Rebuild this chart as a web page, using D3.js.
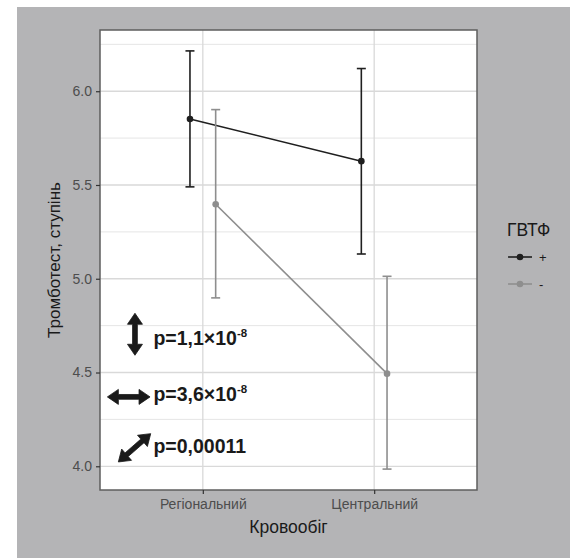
<!DOCTYPE html>
<html>
<head>
<meta charset="utf-8">
<script src="https://cdn.jsdelivr.net/npm/d3@7"></script>
<style>
  body { margin: 0; background: #ffffff; }
  svg { display: block; font-family: "Liberation Sans", Arial, sans-serif; }
</style>
</head>
<body>
<svg id="chart" width="570" height="558"></svg>
<script>
// data
const categories = ['Регіональний', 'Центральний'];
const groups = ['+', '-'];
const groupColors = ['#1f1f1f', '#8e8e8e'];
const meanPlus = [5.852, 5.627];
const lowerPlus = [5.490, 5.132];
const upperPlus = [6.215, 6.121];
const meanMinus = [5.397, 4.494];
const lowerMinus = [4.898, 3.985];
const upperMinus = [5.902, 5.013];
const yTicks = [4.0, 4.5, 5.0, 5.5, 6.0];
const yMinorTicks = [4.25, 4.75, 5.25, 5.75, 6.25];

// annotations, x in discrete-axis units, y in data units
const arrows = [
  { x1: 0.604, y1: 4.816, x2: 0.604, y2: 4.592 },
  { x1: 0.443, y1: 4.370, x2: 0.692, y2: 4.370 },
  { x1: 0.507, y1: 4.023, x2: 0.696, y2: 4.174 }
];
const pLabels = [
  { x: 0.712, y: 4.645, text: 'p=1,1×10', sup: '-8' },
  { x: 0.712, y: 4.348, text: 'p=3,6×10', sup: '-8' },
  { x: 0.712, y: 4.071, text: 'p=0,00011', sup: '' }
];

const series = [
  { key: groups[0], color: groupColors[0], mean: meanPlus, lo: lowerPlus, hi: upperPlus, dodge: -1 },
  { key: groups[1], color: groupColors[1], mean: meanMinus, lo: lowerMinus, hi: upperMinus, dodge: 1 }
];

const svg = d3.select('#chart');

const panel = { left: 100, right: 477, top: 30, bottom: 490 };

// grey plot background
svg.append('rect')
  .attr('x', 17).attr('y', 7)
  .attr('width', 553).attr('height', 551)
  .attr('fill', '#b4b4b6');

svg.append('rect')
  .attr('x', panel.left).attr('y', panel.top)
  .attr('width', panel.right - panel.left)
  .attr('height', panel.bottom - panel.top)
  .attr('fill', '#ffffff');

const allLo = d3.min([...lowerPlus, ...lowerMinus]);
const allHi = d3.max([...upperPlus, ...upperMinus]);
const pad = (allHi - allLo) * 0.05;

const y = d3.scaleLinear()
  .domain([allLo - pad, allHi + pad])
  .range([panel.bottom, panel.top]);

const xNum = d3.scaleLinear()
  .domain([0.4, categories.length + 0.6])
  .range([panel.left, panel.right]);

const xCat = (i) => xNum(i + 1);
const dodge = 0.075;

// grid
const grid = svg.append('g');
grid.selectAll('line.minor')
  .data(yMinorTicks)
  .join('line')
  .attr('class', 'minor')
  .attr('x1', panel.left).attr('x2', panel.right)
  .attr('y1', (d) => y(d)).attr('y2', (d) => y(d))
  .attr('stroke', '#e2e2e2')
  .attr('stroke-width', 0.9);
grid.selectAll('line.major')
  .data(yTicks)
  .join('line')
  .attr('class', 'major')
  .attr('x1', panel.left).attr('x2', panel.right)
  .attr('y1', (d) => y(d)).attr('y2', (d) => y(d))
  .attr('stroke', '#d9d9d9')
  .attr('stroke-width', 1.3);
grid.selectAll('line.vmajor')
  .data(categories)
  .join('line')
  .attr('class', 'vmajor')
  .attr('x1', (d, i) => xCat(i)).attr('x2', (d, i) => xCat(i))
  .attr('y1', panel.top).attr('y2', panel.bottom)
  .attr('stroke', '#d9d9d9')
  .attr('stroke-width', 1.3);

// series
series.forEach((s) => {
  const g = svg.append('g');
  const px = (i) => xNum(i + 1 + s.dodge * dodge);

  g.selectAll('line.bar')
    .data(s.mean)
    .join('line')
    .attr('x1', (d, i) => px(i)).attr('x2', (d, i) => px(i))
    .attr('y1', (d, i) => y(s.lo[i])).attr('y2', (d, i) => y(s.hi[i]))
    .attr('stroke', s.color)
    .attr('stroke-width', 1.6);

  [s.lo, s.hi].forEach((arr) => {
    g.append('g').selectAll('line')
      .data(arr)
      .join('line')
      .attr('x1', (d, i) => px(i) - 4.5).attr('x2', (d, i) => px(i) + 4.5)
      .attr('y1', (d) => y(d)).attr('y2', (d) => y(d))
      .attr('stroke', s.color)
      .attr('stroke-width', 1.6);
  });

  g.append('path')
    .datum(s.mean)
    .attr('d', d3.line().x((d, i) => px(i)).y((d) => y(d)))
    .attr('fill', 'none')
    .attr('stroke', s.color)
    .attr('stroke-width', 1.6);

  g.selectAll('circle')
    .data(s.mean)
    .join('circle')
    .attr('cx', (d, i) => px(i))
    .attr('cy', (d) => y(d))
    .attr('r', 3.3)
    .attr('fill', s.color);
});

// double-headed arrows
function arrowPath(a) {
  const x1 = xNum(a.x1), y1 = y(a.y1), x2 = xNum(a.x2), y2 = y(a.y2);
  const len = Math.hypot(x2 - x1, y2 - y1);
  const ux = (x2 - x1) / len, uy = (y2 - y1) / len;
  const nx = -uy, ny = ux;
  const head = 11, hw = 7.5, sw = 2.4;
  const pt = (t, n) => [x1 + ux * t + nx * n, y1 + uy * t + ny * n];
  const pts = [
    pt(0, 0), pt(head, hw), pt(head, sw), pt(len - head, sw), pt(len - head, hw),
    pt(len, 0), pt(len - head, -hw), pt(len - head, -sw), pt(head, -sw), pt(head, -hw)
  ];
  return 'M' + pts.map((p) => p.join(',')).join('L') + 'Z';
}

svg.append('g').selectAll('path')
  .data(arrows)
  .join('path')
  .attr('d', arrowPath)
  .attr('fill', '#1a1a1a')
  .attr('stroke', '#1a1a1a')
  .attr('stroke-width', 0.8)
  .attr('stroke-linejoin', 'round');

const labels = svg.append('g').selectAll('text')
  .data(pLabels)
  .join('text')
  .attr('x', (d) => xNum(d.x))
  .attr('y', (d) => y(d.y))
  .attr('font-size', 19.5)
  .attr('font-weight', 'bold')
  .attr('fill', '#1a1a1a');
labels.append('tspan').text((d) => d.text);
labels.append('tspan')
  .attr('dy', -8)
  .attr('font-size', 11.5)
  .text((d) => d.sup);

// panel border
svg.append('rect')
  .attr('x', panel.left).attr('y', panel.top)
  .attr('width', panel.right - panel.left)
  .attr('height', panel.bottom - panel.top)
  .attr('fill', 'none')
  .attr('stroke', '#5e5e5e')
  .attr('stroke-width', 1.5);

// axes
const yAxis = svg.append('g')
  .attr('transform', `translate(${panel.left},0)`)
  .call(d3.axisLeft(y).tickValues(yTicks).tickFormat(d3.format('.1f')).tickSize(4).tickPadding(4));
yAxis.select('.domain').remove();
yAxis.selectAll('line').attr('stroke', '#333333').attr('stroke-width', 1.2);
yAxis.selectAll('text')
  .attr('font-size', 14)
  .attr('font-family', '"Liberation Sans", Arial, sans-serif')
  .attr('fill', '#4d4d4d');

const xAxis = svg.append('g')
  .attr('transform', `translate(0,${panel.bottom})`)
  .call(d3.axisBottom(xNum).tickValues(categories.map((c, i) => i + 1))
    .tickFormat((d) => categories[d - 1]).tickSize(4).tickPadding(5));
xAxis.select('.domain').remove();
xAxis.selectAll('line').attr('stroke', '#333333').attr('stroke-width', 1.2);
xAxis.selectAll('text')
  .attr('font-size', 14)
  .attr('font-family', '"Liberation Sans", Arial, sans-serif')
  .attr('fill', '#4d4d4d');

// axis titles
svg.append('text')
  .attr('x', (panel.left + panel.right) / 2)
  .attr('y', 533)
  .attr('text-anchor', 'middle')
  .attr('font-size', 17.5)
  .attr('fill', '#1a1a1a')
  .text('Кровообіг');

svg.append('text')
  .attr('transform', `translate(60,${(panel.top + panel.bottom) / 2}) rotate(-90)`)
  .attr('text-anchor', 'middle')
  .attr('font-size', 17)
  .attr('fill', '#1a1a1a')
  .text('Тромботест, ступінь');

// legend
const legend = svg.append('g').attr('transform', 'translate(507,0)');
legend.append('text')
  .attr('x', 0).attr('y', 236)
  .attr('font-size', 17.5)
  .attr('fill', '#1a1a1a')
  .text('ГВТФ');

const items = legend.selectAll('g.item')
  .data(series)
  .join('g')
  .attr('class', 'item')
  .attr('transform', (d, i) => `translate(0,${257 + i * 27})`);
items.append('line')
  .attr('x1', 1).attr('x2', 25)
  .attr('stroke', (d) => d.color)
  .attr('stroke-width', 1.6);
items.append('circle')
  .attr('cx', 13).attr('r', 3.3)
  .attr('fill', (d) => d.color);
items.append('text')
  .attr('x', 32).attr('y', 5)
  .attr('font-size', 13)
  .attr('fill', '#1a1a1a')
  .text((d) => d.key);
</script>
</body>
</html>
